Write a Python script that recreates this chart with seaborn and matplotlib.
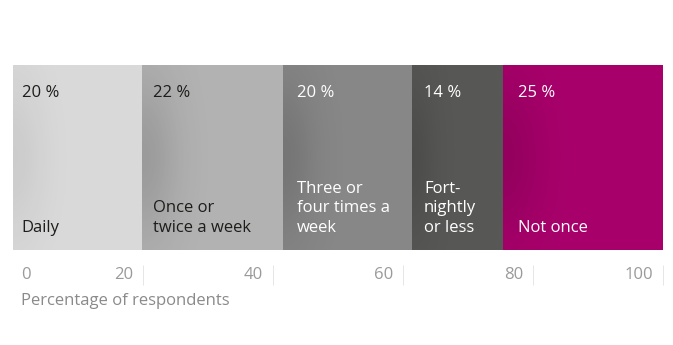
import numpy as np
import pandas as pd
import matplotlib
matplotlib.use("Agg")
import matplotlib.pyplot as plt
from matplotlib.patches import Rectangle
import seaborn as sns

# ---- data ----
categories = ["Daily", "Once or\ntwice a week", "Three or\nfour times a\nweek", "Fort-\nnightly\nor less", "Not once"]
values = [19.9, 21.7, 19.8, 14.0, 24.7]
pct_labels = ["20 %", "22 %", "20 %", "14 %", "25 %"]
colors = ["#d9d9d9", "#b2b2b2", "#878787", "#575756", "#a8006b"]
text_colors = ["#1d1d1b", "#1d1d1b", "#ffffff", "#ffffff", "#ffffff"]
tick_values = [20, 40, 60, 80, 100]
tick_labels = ["20", "40", "60", "80", "100"]
zero_label = "0"
axis_title = "Percentage of respondents"

# style: text inset per segment (pixels)
insets = [9, 11.5, 14, 12, 15]
shade = [0.06, 0.13, 0.13, 0.12, 0.12]

sns.set_theme(style="white")
plt.rcParams["font.family"] = ["Open Sans", "DejaVu Sans"]
FS = 12

fig = plt.figure(figsize=(6.73, 3.45), dpi=100)
W, H = 673, 345
x0_px, x100_px = 12.5, 663.0
bar_top, bar_bot = 65, 250
ax = fig.add_axes([x0_px / W, (H - bar_bot) / H, (x100_px - x0_px) / W, (bar_bot - bar_top) / H])

cum = np.cumsum(values)
lefts = cum - np.array(values)
# stacked bars via cumulative totals, drawn from the largest down
for i in reversed(range(len(values))):
    df = pd.DataFrame({"row": ["r"], "val": [cum[i]]})
    sns.barplot(data=df, x="val", y="row", orient="h", color=colors[i],
                width=1.0, linewidth=0, saturation=1, ax=ax, zorder=1)

# subtle shading toward left edge of each segment
nx, ny = 200, 100
xs = np.linspace(0, 1, nx)
ys = np.linspace(-1, 1, ny)
XX, YY = np.meshgrid(xs, ys)
for i in range(len(values)):
    alpha = shade[i] * np.exp(-(XX / 0.25) ** 2) * np.exp(-(YY / 0.9) ** 2)
    rgba = np.zeros((ny, nx, 4))
    rgba[..., 3] = alpha
    im = ax.imshow(rgba, extent=(lefts[i], cum[i], 0.5, -0.5), aspect="auto",
                   interpolation="bilinear", zorder=2)
    clip = Rectangle((lefts[i], -0.5), values[i], 1.0, transform=ax.transData)
    im.set_clip_path(clip)
ax.set_xlim(0, 100)
ax.set_ylim(0.5, -0.5)

# segment texts
for i in range(len(values)):
    ax.annotate(pct_labels[i], xy=(lefts[i], 0), xycoords=("data", "axes fraction"),
                xytext=(insets[i], 185 - 28), textcoords="offset pixels",
                ha="left", va="center", fontsize=FS, color=text_colors[i], zorder=3)
    ax.annotate(categories[i], xy=(lefts[i], 0), xycoords=("data", "axes fraction"),
                xytext=(insets[i], 18), textcoords="offset pixels",
                ha="left", va="baseline", fontsize=FS, color=text_colors[i],
                linespacing=1.3, zorder=3)

# axis
for s in ax.spines.values():
    s.set_visible(False)
ax.set_yticks([])
ax.set_ylabel("")
ax.set_xlabel("")
ax.spines["bottom"].set_position(("outward", 11))
ax.set_xticks(tick_values)
ax.set_xticklabels([""] * len(tick_values))
ax.tick_params(axis="x", bottom=True, length=14.5, width=0.7, color="#e6e6e6", direction="out", pad=0)

tick_gray = "#9a9a9a"
for v, lab in zip(tick_values, tick_labels):
    ax.annotate(lab, xy=(v, 0), xycoords=("data", "axes fraction"),
                xytext=(-9.5, -25), textcoords="offset pixels",
                ha="right", va="center", fontsize=FS, color=tick_gray)
ax.annotate(zero_label, xy=(0, 0), xycoords=("data", "axes fraction"),
            xytext=(8.5, -25), textcoords="offset pixels",
            ha="left", va="center", fontsize=FS, color=tick_gray)
ax.annotate(axis_title, xy=(0, 0), xycoords=("data", "axes fraction"),
            xytext=(8.5, -51), textcoords="offset pixels",
            ha="left", va="center", fontsize=FS, color="#8a8a8a")

fig.savefig("out.png", dpi=100, facecolor="white")
